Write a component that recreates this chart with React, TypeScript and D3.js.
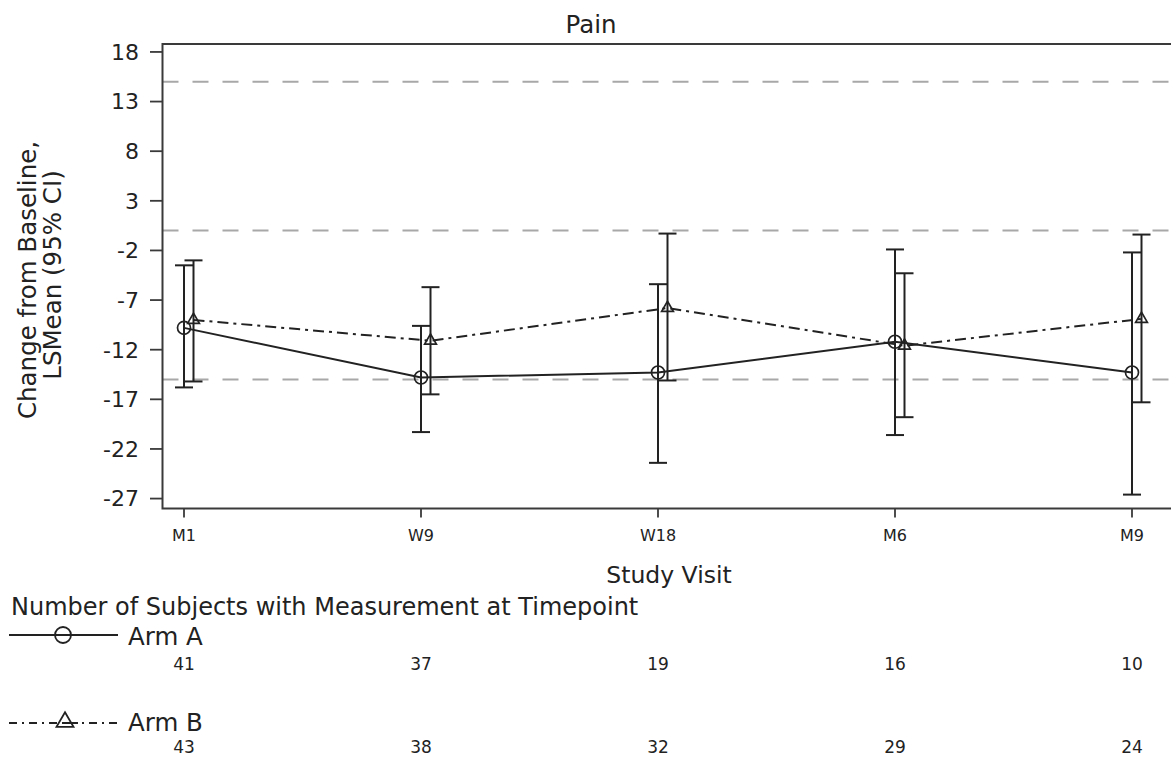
import React from 'react';
import * as d3 from 'd3';

// visits and values
const visits = ['M1', 'W9', 'W18', 'M6', 'M9'];
const armAMean = [-9.8, -14.8, -14.3, -11.2, -14.3];
const armALower = [-15.8, -20.3, -23.4, -20.6, -26.6];
const armAUpper = [-3.5, -9.6, -5.4, -1.9, -2.2];
const armBMean = [-9.0, -11.1, -7.8, -11.6, -8.9];
const armBLower = [-15.2, -16.5, -15.1, -18.8, -17.3];
const armBUpper = [-3.0, -5.7, -0.3, -4.3, -0.4];
const armACounts = [41, 37, 19, 16, 10];
const armBCounts = [43, 38, 32, 29, 24];
const yTicks = [18, 13, 8, 3, -2, -7, -12, -17, -22, -27];
const refLines = [15, 0, -15];

const W = 1171;
const H = 760;
const FONT = 'DejaVu Sans, Verdana, sans-serif';
const INK = '#222';

const plot = { left: 162.5, top: 44, right: 1175, bottom: 508.5 };

export default function App() {
  const y = d3.scaleLinear().domain([-28, 18.8]).range([plot.bottom, plot.top]);
  const x = d3.scalePoint<string>().domain(visits).range([184, 1132]);
  const offB = 9.5;
  const cap = 9;

  const lineA = d3.line<number>()
    .x((d, i) => x(visits[i])!)
    .y(d => y(d));
  const lineB = d3.line<number>()
    .x((d, i) => x(visits[i])! + offB)
    .y(d => y(d));

  const tri = d3.symbol().type(d3.symbolTriangle).size(60)()!;
  const triLegend = d3.symbol().type(d3.symbolTriangle).size(125)()!;

  const errBars = (lo: number[], hi: number[], dx: number) =>
    visits.map((v, i) => {
      const cx = x(v)! + dx;
      return (
        <g key={v} stroke={INK} strokeWidth={2}>
          <line x1={cx} x2={cx} y1={y(lo[i])} y2={y(hi[i])} />
          <line x1={cx - cap} x2={cx + cap} y1={y(lo[i])} y2={y(lo[i])} />
          <line x1={cx - cap} x2={cx + cap} y1={y(hi[i])} y2={y(hi[i])} />
        </g>
      );
    });

  return (
    <svg width={W} height={H} style={{ position: 'absolute', left: 0, top: 0, background: '#fff' }}
      fontFamily={FONT}>
      {/* title */}
      <text x={591} y={33} textAnchor="middle" fontSize={24.5} fill={INK}>Pain</text>

      {/* reference lines */}
      {refLines.map(r => (
        <line key={r} x1={plot.left} x2={W} y1={y(r)} y2={y(r)}
          stroke="#a8a8a8" strokeWidth={2} strokeDasharray="16,14" />
      ))}

      {/* frame */}
      <rect x={plot.left} y={plot.top} width={plot.right - plot.left} height={plot.bottom - plot.top}
        fill="none" stroke="#3a3a3a" strokeWidth={2} />

      {/* y axis */}
      {yTicks.map(t => (
        <g key={t}>
          <line x1={150} x2={plot.left} y1={y(t)} y2={y(t)} stroke="#3a3a3a" strokeWidth={1.8} />
          <text x={139} y={y(t)} dy="0.36em" textAnchor="end" fontSize={22} fill={INK}>{t}</text>
        </g>
      ))}
      <text transform="rotate(-90)" x={-280} y={36} textAnchor="middle" fontSize={24.5} fill={INK}>Change from Baseline,</text>
      <text transform="rotate(-90)" x={-275} y={61} textAnchor="middle" fontSize={24.5} fill={INK}>LSMean (95% CI)</text>

      {/* x axis */}
      {visits.map(v => (
        <g key={v}>
          <line x1={x(v)} x2={x(v)} y1={plot.bottom} y2={plot.bottom + 9} stroke="#3a3a3a" strokeWidth={1.8} />
          <text x={x(v)} y={541} textAnchor="middle" fontSize={16} fill={INK}>{v}</text>
        </g>
      ))}
      <text x={669} y={583} textAnchor="middle" fontSize={23.5} fill={INK}>Study Visit</text>

      {/* error bars */}
      {errBars(armALower, armAUpper, 0)}
      {errBars(armBLower, armBUpper, offB)}

      {/* series lines */}
      <path d={lineA(armAMean)!} fill="none" stroke={INK} strokeWidth={2} />
      <path d={lineB(armBMean)!} fill="none" stroke={INK} strokeWidth={2} strokeDasharray="11,5,3,5" />

      {/* markers */}
      {armAMean.map((m, i) => (
        <circle key={i} cx={x(visits[i])} cy={y(m)} r={6.5} fill="none" stroke={INK} strokeWidth={1.7} />
      ))}
      {armBMean.map((m, i) => (
        <path key={i} d={tri} transform={`translate(${x(visits[i])! + offB},${y(m)})`}
          fill="none" stroke={INK} strokeWidth={1.7} />
      ))}

      {/* subjects table */}
      <text x={11} y={615} fontSize={24} fill={INK}>Number of Subjects with Measurement at Timepoint</text>

      <line x1={9} x2={118} y1={635} y2={635} stroke={INK} strokeWidth={2} />
      <circle cx={63} cy={635} r={8} fill="none" stroke={INK} strokeWidth={1.8} />
      <text x={128} y={645} fontSize={24.5} fill={INK}>Arm A</text>
      {armACounts.map((c, i) => (
        <text key={i} x={x(visits[i])} y={670} textAnchor="middle" fontSize={17} fill={INK}>{c}</text>
      ))}

      <line x1={9} x2={118} y1={723} y2={723} stroke={INK} strokeWidth={2} strokeDasharray="8,5,2,5" />
      <path d={triLegend} transform="translate(65,722)" fill="#fff" stroke={INK} strokeWidth={1.8} />
      <line x1={62} x2={78} y1={723} y2={723} stroke={INK} strokeWidth={2} />
      <text x={128} y={731} fontSize={24.5} fill={INK}>Arm B</text>
      {armBCounts.map((c, i) => (
        <text key={i} x={x(visits[i])} y={753} textAnchor="middle" fontSize={17} fill={INK}>{c}</text>
      ))}
    </svg>
  );
}
